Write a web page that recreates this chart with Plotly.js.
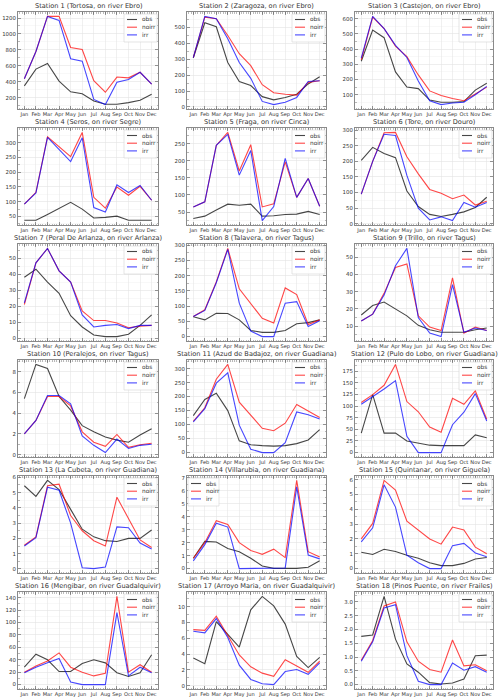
<!DOCTYPE html>
<html>
<head>
<meta charset="utf-8">
<script src="https://cdn.plot.ly/plotly-3.0.1.min.js"></script>
<style>html,body{margin:0;padding:0;background:#fff;}#chart{width:500px;height:700px;opacity:0.999;}</style>
</head>
<body>
<div id="chart"></div>
<script>
const months = ["Jan","Feb","Mar","Apr","May","Jun","Jul","Aug","Sep","Oct","Nov","Dec"];
const titles = [
  "Station 1 (Tortosa, on river Ebro)",
  "Station 2 (Zaragoza, on river Ebro)",
  "Station 3 (Castejon, on river Ebro)",
  "Station 4 (Seros, on river Segre)",
  "Station 5 (Fraga, on river Cinca)",
  "Station 6 (Tore, on river Douro)",
  "Station 7 (Peral De Arlanza, on river Arlanza)",
  "Station 8 (Talavera, on river Tagus)",
  "Station 9 (Trillo, on river Tagus)",
  "Station 10 (Peralejos, on river Tagus)",
  "Station 11 (Azud de Badajoz, on river Guadiana)",
  "Station 12 (Pulo do Lobo, on river Guadiana)",
  "Station 13 (La Cubeta, on river Guadiana)",
  "Station 14 (Villarubia, on river Guadiana)",
  "Station 15 (Quintanar, on river Giguela)",
  "Station 16 (Mengibar, on river Guadalquivir)",
  "Station 17 (Arroyo Maria, on river Guadalquivir)",
  "Station 18 (Pinos Puente, on river Frailes)"
];
const seriesNames = ["obs","noirr","irr"];
const obs = [
  [350,560,630,410,275,250,160,120,120,140,170,245],
  [310,530,505,280,160,135,65,45,60,80,145,190],
  [320,525,475,250,150,140,65,50,50,55,130,175],
  [37,37,57,77,98,75,45,47,51,37,36,37],
  [31,38,56,73,70,73,38,39,43,44,52,43],
  [203,245,225,212,105,55,30,23,30,38,52,85],
  [38,43,35,28,14,7,2,1,1,2.5,8,14.5],
  [65,55,77,76,55,20,14,14,20,42,46,55],
  [16.5,22,24,20,16,10.5,8,6.5,6.3,6.5,8,9],
  [5.4,8.7,8.3,5.6,4.3,2.8,2.2,1.7,1.4,1.2,1.9,2.5],
  [132,190,212,150,42,28,25,23,25,32,45,82],
  [42,125,42,42,25,20,16,15,15,15,38,32],
  [5.45,4.75,5.8,5.2,3.9,2.6,2.1,1.85,1.8,2.0,2.0,2.55],
  [0.8,2.1,2.05,1.55,1.3,0.8,0.2,0.02,0.02,0.02,0.1,0.6],
  [1.1,0.95,1.3,1.15,0.9,0.7,0.4,0.2,0.2,0.35,0.65,0.75],
  [28,49,40,21,21,34,40,35,19,13,19,48],
  [3.5,2.8,8.1,6.5,4.9,9.6,11.3,10.1,7.8,3.7,2.3,3.6],
  [1.75,1.8,3.2,1.65,0.75,0.45,0.07,0.02,0.06,0.2,1.05,1.07]
];
const noirr = [
  [440,780,1220,1220,830,805,415,270,460,450,520,370],
  [310,565,555,450,335,260,140,90,80,75,155,165],
  [330,610,535,420,350,230,125,95,75,60,105,150],
  [92,132,320,285,253,335,115,78,150,122,152,105],
  [65,80,245,283,170,247,65,74,197,93,148,67],
  [95,200,292,293,215,160,110,98,80,92,60,72],
  [21,47,56,42,35,17,11,11,9.5,6.5,7.5,8],
  [66,88,180,290,157,110,60,45,160,138,40,55],
  [13,17,29,44,46,16,9.5,7.5,38,6,9.5,7.5],
  [2.0,3.3,5.6,5.6,4.7,2.2,1.2,0.8,1.95,0.7,0.95,1.1],
  [112,160,262,315,180,133,87,78,105,172,150,125],
  [108,125,145,190,110,88,55,44,117,104,133,72],
  [1.55,2.1,5.45,5.55,3.5,2.5,1.85,1.5,4.7,3.3,1.9,1.4],
  [0.8,2.0,3.7,3.4,2.0,1.4,1.1,1.5,0.85,6.8,1.3,0.9],
  [2.0,3.05,5.95,5.3,3.2,2.6,2.0,1.65,2.8,2.6,1.45,1.0],
  [20,30,38,51,28,20,14,18,142,20,32,20],
  [7.1,7.0,8.8,6.3,3.9,2.4,1.6,1.2,3.3,2.5,1.7,3.1],
  [0.88,1.6,2.85,3.0,1.55,0.85,0.55,0.45,1.62,0.68,0.72,0.5]
];
const irr = [
  [440,780,1220,1170,690,660,180,115,395,430,520,370],
  [310,570,555,430,280,180,35,15,30,60,160,165],
  [340,615,535,425,345,190,60,35,45,50,100,155],
  [92,130,318,277,236,317,80,65,157,131,155,105],
  [65,80,245,277,158,230,25,66,207,93,148,67],
  [95,200,287,283,155,50,12,22,10,68,53,68],
  [22,47,56,42,35,14.5,7,8,8.5,6,8,8],
  [66,86,177,287,110,18,0,0,110,115,33,52],
  [13,17,28,45,55,15,6,4,34,6.5,9,7.5],
  [2.0,3.3,5.7,5.7,4.9,1.8,0.9,0.2,1.5,0.6,0.9,1.0],
  [110,157,248,285,98,12,0,0,35,145,135,120],
  [104,120,137,155,35,0,0,0,60,87,127,68],
  [1.5,2.05,5.35,5.15,3.0,0.08,0.02,0.12,2.75,2.7,1.7,1.3],
  [0.6,1.85,3.5,3.2,0.0,0,0,0,0.05,6.3,1.05,0.75],
  [1.8,2.75,5.65,4.15,0.9,0.4,0.0,0.0,1.55,1.7,1.05,0.8],
  [19,28,35,42,4,0,0,0,116,14,28,19],
  [6.9,6.7,8.5,6.1,2.6,0.8,0.25,0.15,1.8,2.05,1.45,2.9],
  [0.85,1.55,2.78,2.9,1.05,0.12,0.0,0.0,0.78,0.52,0.65,0.45]
];

// ---- styling (not data) ----
const yDticks = [200,100,100,50,50,50,10,50,10,2,50,25,1,1,1,20,2,0.5];
const legendLeft = [13];
const colors = ["rgba(0,0,0,0.72)","rgba(255,0,0,0.72)","rgba(0,0,255,0.72)"];
const W = 500, H = 700;
const colPx = [[18,158],[187,326],[355,493]];
const rowTop0 = 12, rowH = 97, rowStep = 116;
const FONT = "DejaVu Sans, Liberation Sans, sans-serif";
const monthIdx = months.map((m, j) => j);

const traces = [];
const layout = {
  width: W, height: H,
  margin: {l:0, r:0, t:0, b:0},
  paper_bgcolor: "#fff", plot_bgcolor: "#fff",
  font: {family: FONT, size: 5, color: "#333"},
  showlegend: false,
  annotations: [],
  shapes: []
};

for (let i = 0; i < 18; i++) {
  const r = Math.floor(i / 3), c = i % 3;
  const sfx = i === 0 ? "" : String(i + 1);
  const xr = "x" + sfx, yr = "y" + sfx;
  const top = rowTop0 + r * rowStep, bot = top + rowH;
  const xd = [colPx[c][0] / W, colPx[c][1] / W];
  const yd = [1 - bot / H, 1 - top / H];
  const sets = [obs[i], noirr[i], irr[i]];
  sets.forEach((vals, k) => {
    traces.push({
      x: monthIdx, y: vals, type: "scatter", mode: "lines",
      name: seriesNames[k], xaxis: xr, yaxis: yr,
      line: {color: colors[k], width: 1.1},
      hoverinfo: "skip"
    });
  });
  const all = sets.flat();
  const mn = Math.min(...all), mx = Math.max(...all);
  const pad = (mx - mn) * 0.05;
  layout["xaxis" + sfx] = {
    domain: xd, anchor: yr,
    range: [-0.55, 11.55],
    tickvals: monthIdx, ticktext: months, tickangle: 0,
    ticks: "inside", ticklen: 3, tickcolor: "#555", tickwidth: 0.6,
    showline: true, linecolor: "#8a8a8a", linewidth: 1, mirror: "allticks",
    showgrid: true, gridcolor: "#e6e6e6", gridwidth: 0.6,
    minor: {dtick: 0.2, tick0: 0, ticks: "inside", ticklen: 1.5, tickcolor: "#777", tickwidth: 0.5, showgrid: false},
    tickfont: {size: 5.1, color: "#333", family: FONT},
    fixedrange: true, zeroline: false
  };
  layout["yaxis" + sfx] = {
    domain: yd, anchor: xr,
    range: [mn - pad, mx + pad],
    dtick: yDticks[i], tick0: 0,
    tickformat: yDticks[i] < 1 ? ".1f" : "",
    ticks: "inside", ticklen: 3, tickcolor: "#555", tickwidth: 0.6,
    showline: true, linecolor: "#8a8a8a", linewidth: 1, mirror: "allticks",
    showgrid: true, gridcolor: "#e3e3e3", gridwidth: 0.6,
    minor: {dtick: yDticks[i] / 2, ticks: "inside", ticklen: 1.5, tickcolor: "#777", tickwidth: 0.5, showgrid: true, gridcolor: "#f2f2f2", gridwidth: 0.5},
    tickfont: {size: 5.4, color: "#333", family: FONT},
    fixedrange: true, zeroline: false
  };
  // title
  layout.annotations.push({
    text: titles[i],
    xref: xr + " domain", yref: yr + " domain",
    x: 0.5, y: 1, xanchor: "center", yanchor: "bottom", yshift: 0,
    showarrow: false,
    font: {size: 6.6, color: "#333", family: FONT}
  });
  // compact legend box (pixel offsets from a plot corner)
  const left = legendLeft.includes(i);
  const ax = left ? 0 : 1;
  const bx0 = left ? 1 : -34, bx1 = left ? 32 : -1;
  const lx0 = left ? 4 : -31, lx1 = left ? 14 : -21;
  const tx = left ? 17 : -18;
  layout.shapes.push({
    type: "rect", xref: xr + " domain", yref: yr + " domain",
    xsizemode: "pixel", ysizemode: "pixel", xanchor: ax, yanchor: 1,
    x0: bx0, x1: bx1, y0: -2, y1: -30,
    line: {color: "#d4d4d4", width: 0.6}, fillcolor: "rgba(255,255,255,0.85)",
    layer: "above"
  });
  seriesNames.forEach((nm, k) => {
    const yy = -7.5 - k * 7.7;
    layout.shapes.push({
      type: "line", xref: xr + " domain", yref: yr + " domain",
      xsizemode: "pixel", ysizemode: "pixel", xanchor: ax, yanchor: 1,
      x0: lx0, x1: lx1, y0: yy, y1: yy,
      line: {color: colors[k], width: 1.1}, layer: "above"
    });
    layout.annotations.push({
      text: nm, xref: xr + " domain", yref: yr + " domain",
      x: ax, y: 1, xshift: tx, yshift: yy,
      xanchor: "left", yanchor: "middle", showarrow: false,
      font: {size: 5.8, color: "#333", family: FONT}
    });
  });
}

Plotly.newPlot("chart", traces, layout, {staticPlot: true, displayModeBar: false});
</script>
</body>
</html>
